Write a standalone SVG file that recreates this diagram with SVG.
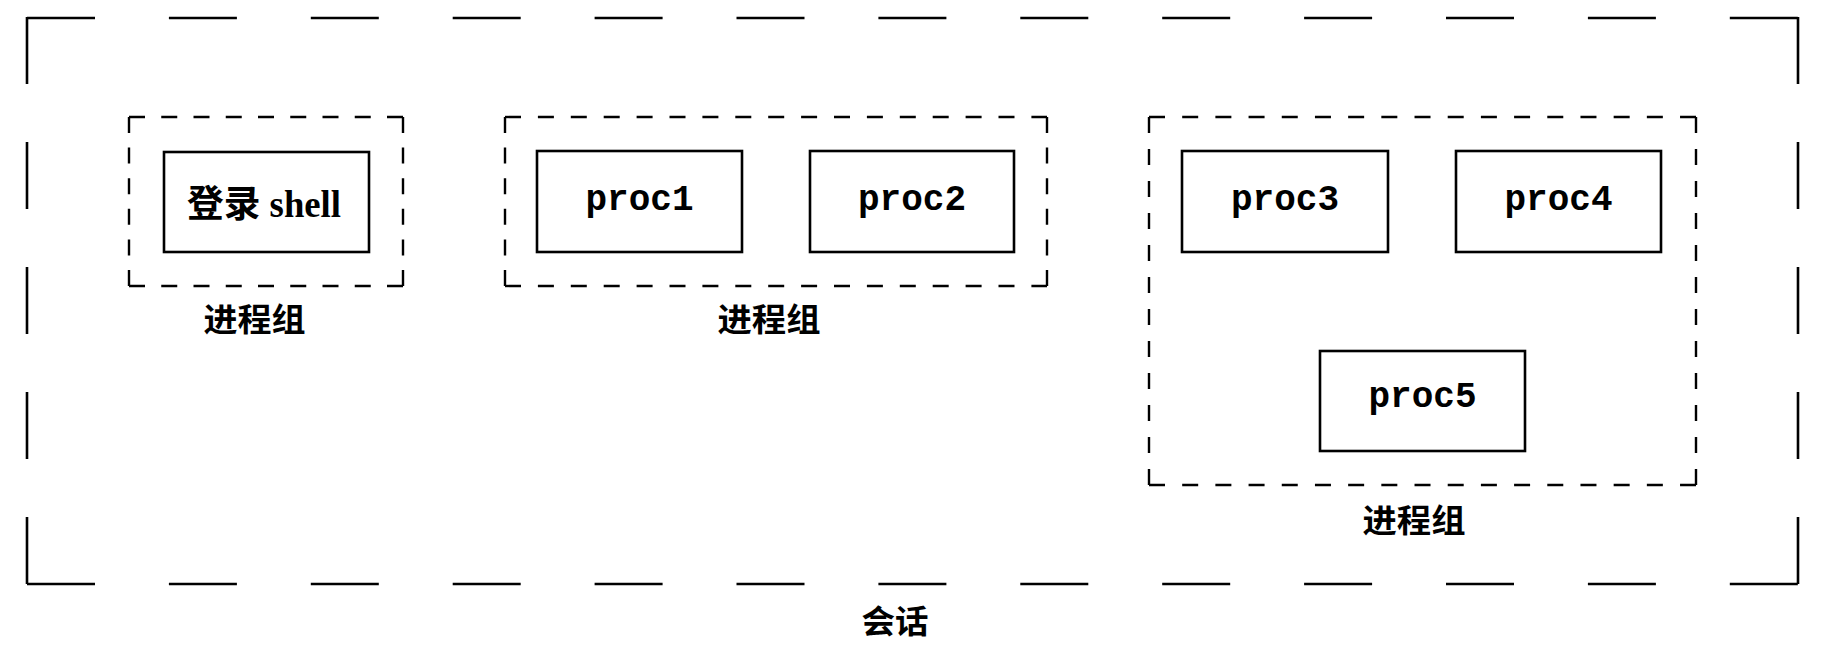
<svg xmlns="http://www.w3.org/2000/svg" width="1824" height="662" viewBox="0 0 1824 662">
<style>
.outer{fill:none;stroke:#000;stroke-width:2.6;stroke-linecap:butt}
.oh{stroke-dasharray:68 73.9}
.ov{stroke-dasharray:67 58}
.grp{fill:none;stroke:#000;stroke-width:2.4}
.proc{fill:#fff;stroke:#000;stroke-width:2.6}
.mono{font-family:"Liberation Mono","Courier New",monospace;font-weight:bold;font-size:36px;fill:#000;text-anchor:middle}
.cjk{font-family:"Noto Sans CJK SC","Noto Sans CJK TC",sans-serif;font-weight:bold;font-size:32px;fill:#000;text-anchor:middle}
.shell{font-family:"Liberation Serif","Noto Sans CJK SC",serif;font-weight:bold;font-size:37px;fill:#000;text-anchor:middle}
</style>
<rect width="1824" height="662" fill="#fff"/>
<g id="session">
  <line class="outer oh" x1="27" y1="18" x2="1798" y2="18"/>
  <line class="outer oh" x1="27" y1="584" x2="1798" y2="584"/>
  <line class="outer ov" x1="27" y1="17" x2="27" y2="584"/>
  <line class="outer ov" x1="1798" y1="17" x2="1798" y2="584"/>
  <text class="cjk" x="895" y="633" textLength="67" lengthAdjust="spacingAndGlyphs">会话</text>
</g>
<g id="pg1">
  <line class="grp" x1="129" y1="117" x2="403" y2="117" stroke-dasharray="16 16.25"/>
  <line class="grp" x1="129" y1="286" x2="403" y2="286" stroke-dasharray="16 16.25"/>
  <line class="grp" x1="129" y1="117" x2="129" y2="286" stroke-dasharray="16 14.6"/>
  <line class="grp" x1="403" y1="117" x2="403" y2="286" stroke-dasharray="16 14.6"/>
  <text class="cjk" x="254.5" y="331" textLength="102" lengthAdjust="spacingAndGlyphs">进程组</text>
</g>
<g id="login-shell">
  <rect class="proc" x="164" y="152" width="205" height="100"/>
  <text class="shell" x="264" y="217" textLength="154" lengthAdjust="spacingAndGlyphs">登录 shell</text>
</g>
<g id="pg2">
  <line class="grp" x1="505" y1="117" x2="1047" y2="117" stroke-dasharray="16 16.9"/>
  <line class="grp" x1="505" y1="286" x2="1047" y2="286" stroke-dasharray="16 16.9"/>
  <line class="grp" x1="505" y1="117" x2="505" y2="286" stroke-dasharray="16 14.6"/>
  <line class="grp" x1="1047" y1="117" x2="1047" y2="286" stroke-dasharray="16 14.6"/>
  <text class="cjk" x="769" y="331" textLength="103" lengthAdjust="spacingAndGlyphs">进程组</text>
</g>
<g id="proc1">
  <rect class="proc" x="537" y="151" width="205" height="101"/>
  <text class="mono" x="639.5" y="210">proc1</text>
</g>
<g id="proc2">
  <rect class="proc" x="810" y="151" width="204" height="101"/>
  <text class="mono" x="912" y="210">proc2</text>
</g>
<g id="pg3">
  <line class="grp" x1="1149" y1="117" x2="1696" y2="117" stroke-dasharray="16 17.19"/>
  <line class="grp" x1="1149" y1="485" x2="1696" y2="485" stroke-dasharray="16 17.19"/>
  <line class="grp" x1="1149" y1="117" x2="1149" y2="485" stroke-dasharray="16 16"/>
  <line class="grp" x1="1696" y1="117" x2="1696" y2="485" stroke-dasharray="16 16"/>
  <text class="cjk" x="1414" y="532" textLength="103" lengthAdjust="spacingAndGlyphs">进程组</text>
</g>
<g id="proc3">
  <rect class="proc" x="1182" y="151" width="206" height="101"/>
  <text class="mono" x="1285" y="210">proc3</text>
</g>
<g id="proc4">
  <rect class="proc" x="1456" y="151" width="205" height="101"/>
  <text class="mono" x="1558.5" y="210">proc4</text>
</g>
<g id="proc5">
  <rect class="proc" x="1320" y="351" width="205" height="100"/>
  <text class="mono" x="1422.5" y="407">proc5</text>
</g>
<g id="connectors"></g>
</svg>
